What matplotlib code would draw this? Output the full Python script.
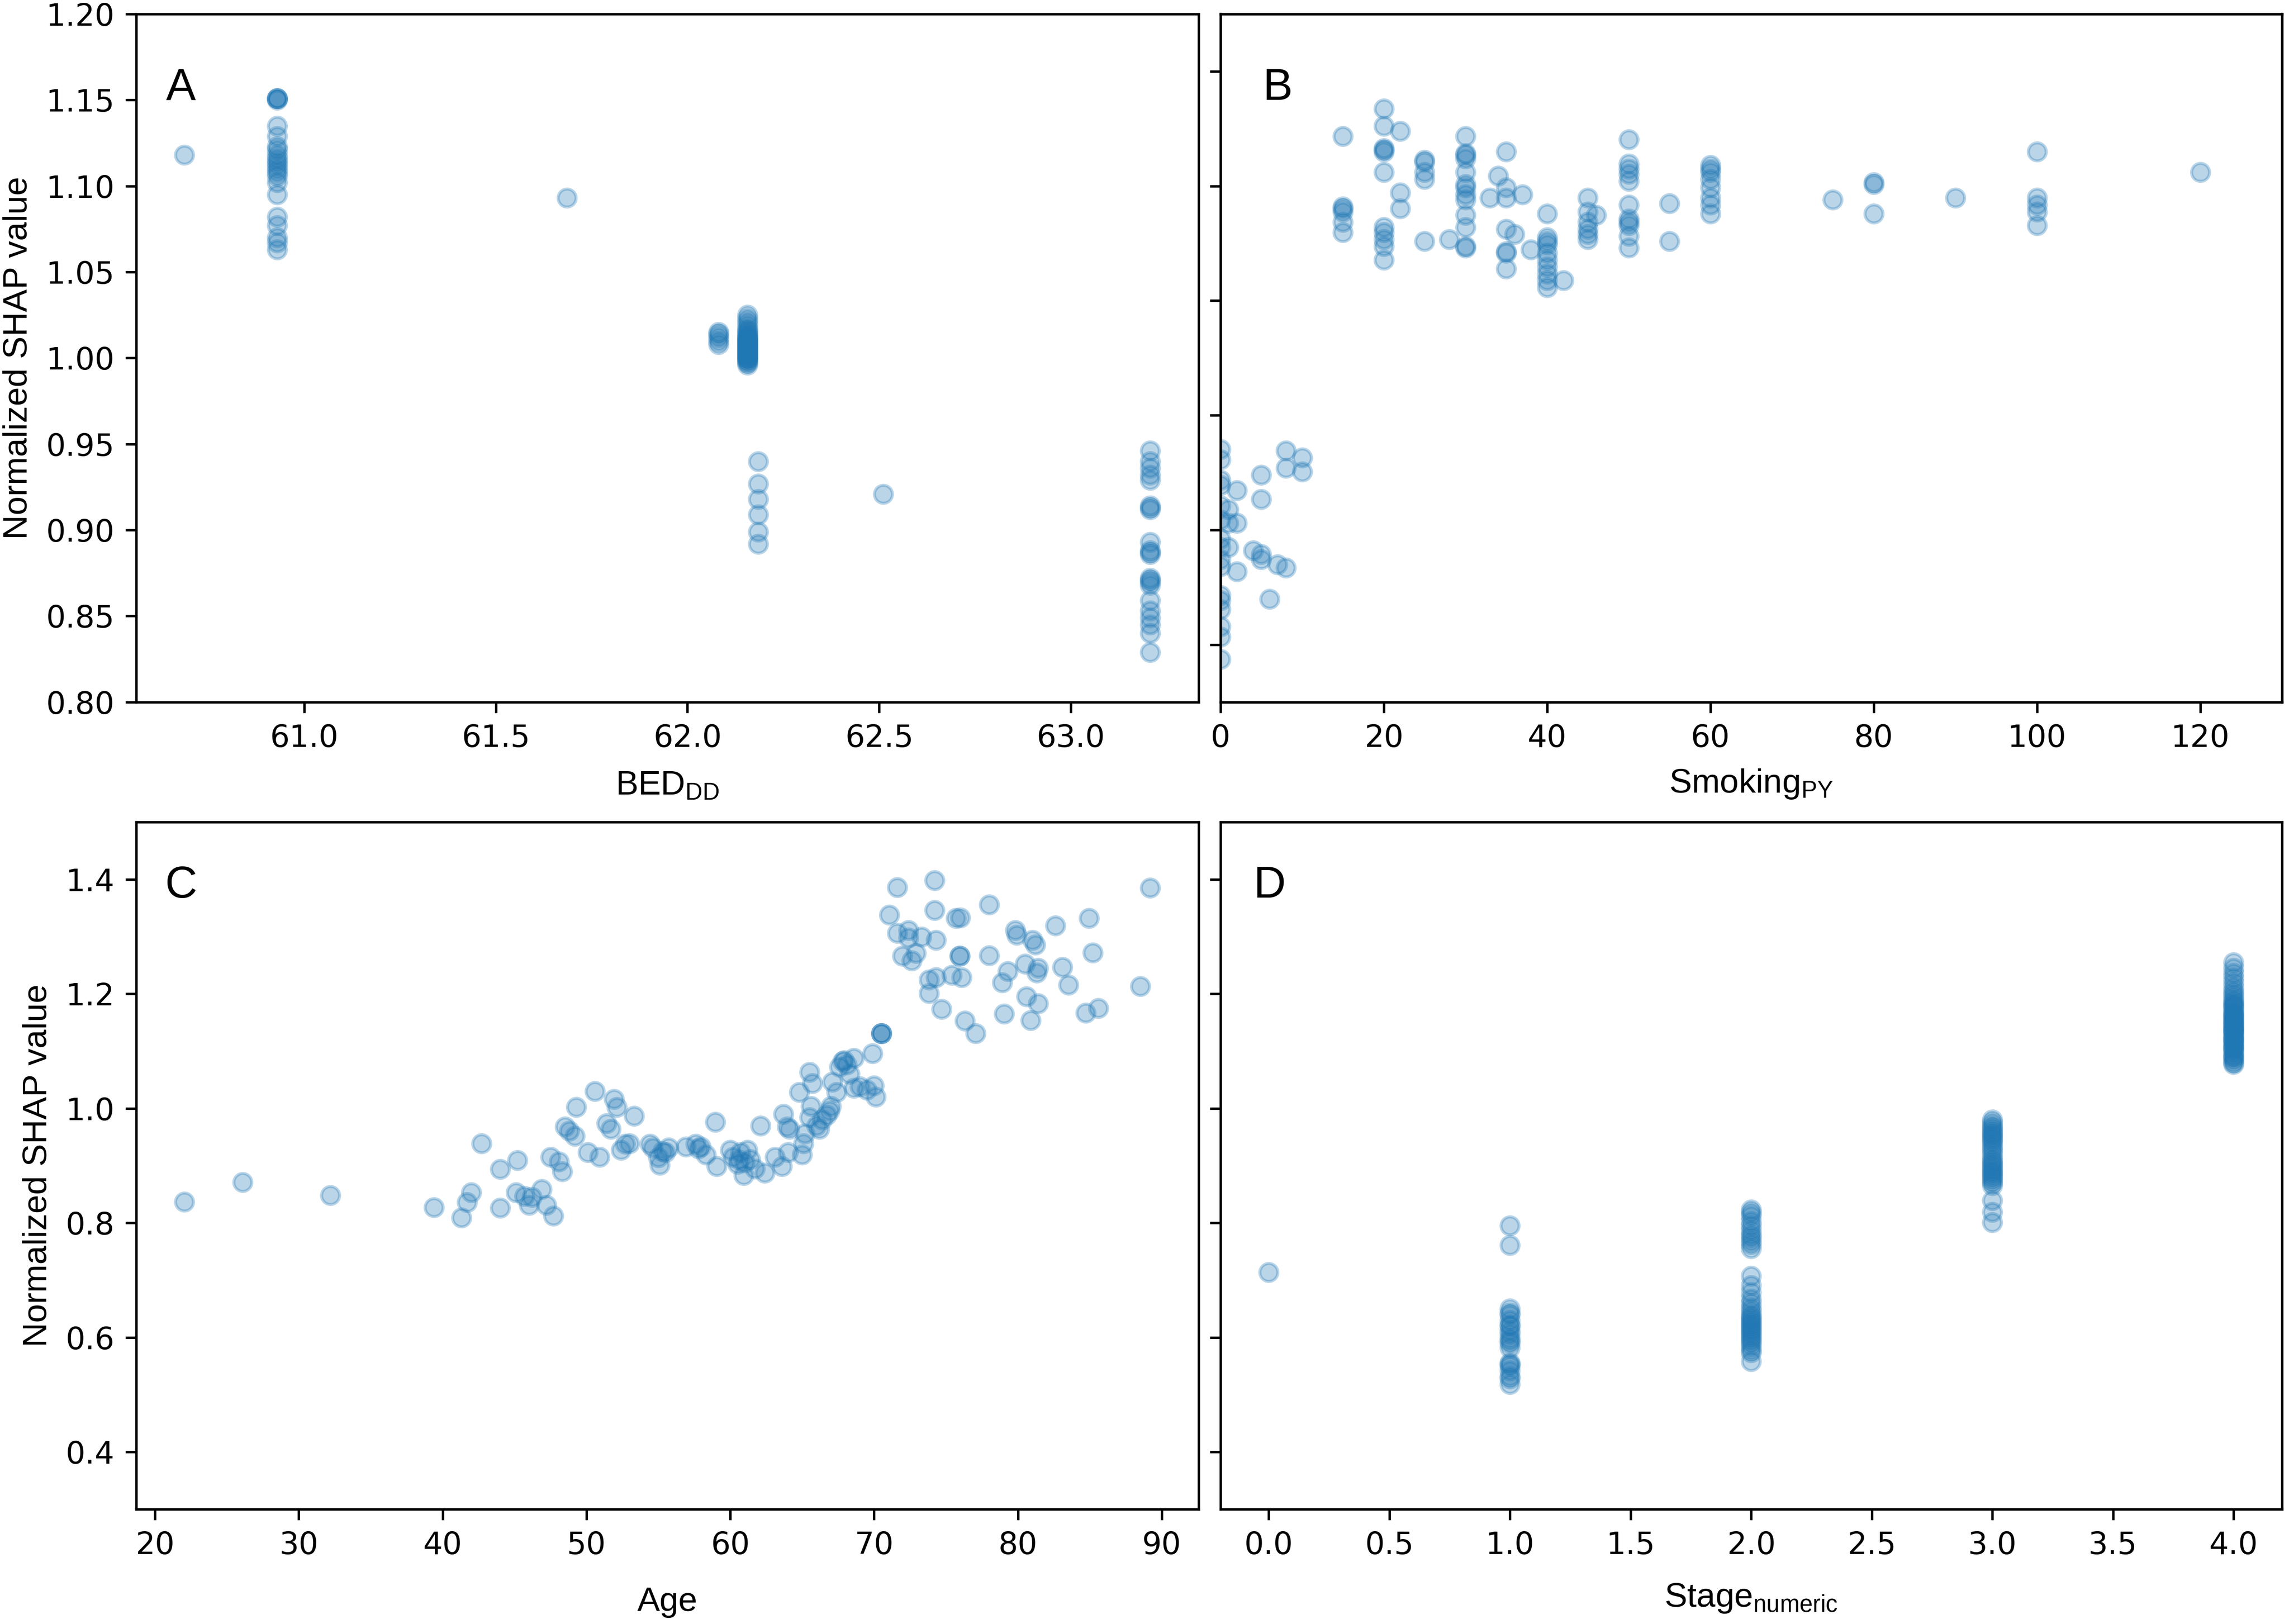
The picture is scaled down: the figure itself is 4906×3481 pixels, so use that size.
import matplotlib
matplotlib.use("Agg")
import matplotlib.pyplot as plt

plt.rcParams["mathtext.fontset"] = "custom"
plt.rcParams["mathtext.rm"] = "Liberation Sans"
plt.rcParams["mathtext.it"] = "Liberation Sans:italic"
plt.rcParams["mathtext.bf"] = "Liberation Sans:bold"

# ---------------- data ----------------
# Panel A: BED_DD
bed_x = ([60.688] + [60.93] * 22 + [61.685] + [62.081] * 5 + [62.157] * 40
         + [62.184] * 6 + [62.51] + [63.207] * 22)
bed_shap = ([1.118]
            + [1.151, 1.151, 1.150, 1.151, 1.135, 1.129, 1.123, 1.121, 1.118, 1.116, 1.114,
               1.112, 1.110, 1.108, 1.106, 1.102, 1.095, 1.082, 1.077, 1.070, 1.067, 1.063]
            + [1.093]
            + [1.015, 1.014, 1.012, 1.010, 1.008]
            + [1.025, 1.023, 1.021, 1.019, 1.017, 1.016, 1.015, 1.014, 1.013, 1.012,
               1.012, 1.011, 1.010, 1.010, 1.009, 1.008, 1.008, 1.007, 1.006, 1.006,
               1.005, 1.004, 1.004, 1.003, 1.002, 1.002, 1.001, 1.000, 1.000, 0.999,
               0.998, 0.997, 0.996, 1.003, 1.007, 1.011, 1.005, 1.001, 0.999, 1.009]
            + [0.940, 0.927, 0.918, 0.909, 0.899, 0.892]
            + [0.921]
            + [0.946, 0.940, 0.936, 0.932, 0.929, 0.914, 0.913, 0.912, 0.893, 0.888, 0.887,
               0.886, 0.872, 0.871, 0.870, 0.868, 0.859, 0.853, 0.849, 0.845, 0.840, 0.829])

# Panel B: Smoking pack-years
smoke_x = ([15] * 6 + [20] * 11 + [22] * 3 + [25] * 5 + [28] + [30] * 13 + [33] + [34]
           + [35] * 7 + [36] + [37] + [38] + [40] * 10 + [42] + [45] * 6 + [46]
           + [50] * 11 + [55] * 2 + [60] * 8 + [75] + [80] * 3 + [90] + [100] * 5 + [120]
           + [0] * 16 + [1] * 3 + [2] * 3 + [4] + [5] * 4 + [6] + [7] + [8] * 3 + [10] * 2)
smoke_shap = ([1.129, 1.088, 1.087, 1.085, 1.079, 1.073]
              + [1.145, 1.135, 1.122, 1.121, 1.120, 1.108, 1.076, 1.073, 1.069, 1.065, 1.057]
              + [1.132, 1.096, 1.087]
              + [1.115, 1.114, 1.108, 1.104, 1.068]
              + [1.069]
              + [1.129, 1.119, 1.118, 1.116, 1.108, 1.101, 1.099, 1.095, 1.092, 1.083,
                 1.076, 1.065, 1.064]
              + [1.093] + [1.106]
              + [1.120, 1.099, 1.093, 1.075, 1.062, 1.061, 1.052]
              + [1.072] + [1.095] + [1.063]
              + [1.084, 1.070, 1.068, 1.066, 1.061, 1.057, 1.053, 1.049, 1.045, 1.041]
              + [1.045]
              + [1.093, 1.085, 1.079, 1.075, 1.072, 1.069]
              + [1.083]
              + [1.127, 1.113, 1.110, 1.107, 1.103, 1.089, 1.081, 1.079, 1.077, 1.071, 1.064]
              + [1.090, 1.068]
              + [1.112, 1.110, 1.108, 1.104, 1.099, 1.093, 1.089, 1.084]
              + [1.092]
              + [1.102, 1.101, 1.084]
              + [1.093]
              + [1.120, 1.093, 1.089, 1.085, 1.077]
              + [1.108]
              + [0.947, 0.941, 0.929, 0.926, 0.914, 0.906, 0.895, 0.890, 0.883, 0.879,
                 0.862, 0.859, 0.854, 0.844, 0.838, 0.825]
              + [0.912, 0.904, 0.890]
              + [0.923, 0.904, 0.876]
              + [0.888]
              + [0.932, 0.918, 0.886, 0.883]
              + [0.860] + [0.880]
              + [0.946, 0.936, 0.878]
              + [0.942, 0.934])

# Panel C: Age
age_x = [22.05, 26.1, 32.2, 39.4, 41.3, 41.7, 42.0, 42.7, 44.0, 44.0, 45.2, 45.1, 45.7,
         46.0, 46.2, 46.9, 47.2, 47.7, 47.5, 48.1, 48.3, 48.5, 48.8, 49.2, 49.3, 50.1,
         50.9, 50.6, 51.4, 51.7, 51.9, 52.1, 52.4, 52.7, 53.3, 53.0, 54.4, 54.6, 55.0,
         55.1, 55.5, 55.7, 56.9, 57.6, 57.95, 58.3, 58.95, 59.05, 60.0, 60.2, 60.5, 60.7,
         60.95, 61.2, 61.4, 61.7, 62.1, 62.4, 63.1, 63.6, 63.7, 63.95, 64.1, 64.0, 64.8,
         65.0, 65.1, 65.2, 65.5, 65.6, 65.5, 65.7, 66.2, 66.4, 66.7, 66.9, 67.0, 67.1,
         67.4, 67.6, 67.9, 68.1, 68.3, 68.6, 68.6, 69.0, 69.5, 70.0, 70.1, 69.9, 70.5,
         70.5, 70.5, 71.05, 71.6, 71.6, 71.95, 72.4, 72.4, 72.6, 72.9, 73.3, 73.8, 73.8,
         74.2, 74.2, 74.3, 74.3, 74.7, 75.4, 75.7, 76.0, 75.95, 75.95, 76.1, 76.3, 77.05,
         78.0, 78.0, 78.9, 79.05, 79.3, 79.8, 79.9, 80.5, 80.6, 80.9, 81.0, 81.2, 81.3,
         81.4, 81.4, 82.6, 83.1, 83.5, 84.7, 84.95, 85.2, 85.6, 88.5, 89.2,
         60.6, 61.0, 55.3, 57.8, 67.8, 66.0]
age_shap = [0.837, 0.871, 0.848, 0.827, 0.809, 0.836, 0.853, 0.939, 0.826, 0.894, 0.909,
            0.853, 0.847, 0.831, 0.845, 0.859, 0.831, 0.812, 0.915, 0.907, 0.890, 0.968,
            0.961, 0.952, 1.002, 0.923, 0.915, 1.030, 0.974, 0.964, 1.016, 1.002, 0.927,
            0.938, 0.987, 0.939, 0.938, 0.931, 0.914, 0.901, 0.923, 0.931, 0.933, 0.938,
            0.933, 0.919, 0.976, 0.899, 0.927, 0.915, 0.903, 0.923, 0.883, 0.927, 0.911,
            0.895, 0.970, 0.887, 0.915, 0.899, 0.990, 0.968, 0.964, 0.923, 1.028, 0.919,
            0.939, 0.956, 0.984, 1.004, 1.063, 1.044, 0.964, 0.980, 0.988, 0.996, 1.004,
            1.046, 1.028, 1.072, 1.084, 1.076, 1.060, 1.088, 1.036, 1.038, 1.032, 1.040,
            1.020, 1.096, 1.131, 1.131, 1.131, 1.338, 1.386, 1.306, 1.266, 1.311, 1.298,
            1.258, 1.271, 1.300, 1.225, 1.201, 1.398, 1.346, 1.294, 1.229, 1.173, 1.233,
            1.332, 1.333, 1.266, 1.266, 1.229, 1.153, 1.131, 1.356, 1.267, 1.220, 1.165,
            1.239, 1.311, 1.303, 1.252, 1.195, 1.154, 1.294, 1.286, 1.237, 1.183, 1.245,
            1.319, 1.247, 1.216, 1.167, 1.332, 1.272, 1.175, 1.213, 1.385,
            0.910, 0.905, 0.925, 0.930, 1.082, 0.970]

# Panel D: Stage (numeric)
stage_x = [0] + [1] * 21 + [2] * 36 + [3] * 31 + [4] * 52
stage_shap = ([0.714]
              + [0.795, 0.761, 0.650, 0.643, 0.640, 0.630, 0.622, 0.620, 0.612, 0.606,
                 0.598, 0.594, 0.590, 0.582, 0.556, 0.553, 0.550, 0.542, 0.532, 0.528, 0.518]
              + [0.823, 0.818, 0.812, 0.803, 0.795, 0.787, 0.780, 0.775, 0.768, 0.763,
                 0.755, 0.707, 0.691, 0.679, 0.667, 0.660, 0.652, 0.646, 0.640, 0.636,
                 0.632, 0.628, 0.625, 0.621, 0.618, 0.614, 0.610, 0.606, 0.602, 0.598,
                 0.594, 0.590, 0.584, 0.578, 0.574, 0.558]
              + [0.980, 0.975, 0.970, 0.966, 0.962, 0.958, 0.955, 0.952, 0.948, 0.944,
                 0.940, 0.935, 0.930, 0.925, 0.918, 0.912, 0.908, 0.904, 0.900, 0.896,
                 0.892, 0.889, 0.886, 0.882, 0.878, 0.874, 0.870, 0.865, 0.839, 0.819, 0.801]
              + [1.255, 1.245, 1.236, 1.228, 1.220, 1.212, 1.205, 1.200, 1.195, 1.190,
                 1.186, 1.182, 1.178, 1.174, 1.170, 1.166, 1.162, 1.158, 1.155, 1.152,
                 1.149, 1.146, 1.143, 1.140, 1.137, 1.134, 1.131, 1.128, 1.125, 1.122,
                 1.119, 1.116, 1.113, 1.110, 1.107, 1.104, 1.100, 1.096, 1.092, 1.088,
                 1.084, 1.080, 1.077, 1.165, 1.150, 1.135, 1.120, 1.105, 1.090, 1.180,
                 1.160, 1.140])

# ---------------- figure ----------------
DPI = 475
LABEL_FONT = dict(family="Liberation Sans", size=11)
fig = plt.figure(figsize=(4906 / DPI, 3481 / DPI), dpi=DPI)
axA = fig.add_axes([0.0595, 0.5677, 0.4641, 0.4237])
axC = fig.add_axes([0.0595, 0.0707, 0.4641, 0.4231])
axD = fig.add_axes([0.5332, 0.0707, 0.4637, 0.4231], sharey=axC)
axB = fig.add_axes([0.5332, 0.5677, 0.4637, 0.4237], sharey=axC)
axB2 = axB.twinx()

kw = dict(s=34, color="#1f77b4", alpha=0.3, linewidths=1.0)

axA.scatter(bed_x, bed_shap, **kw)
axA.set_ylim(0.80, 1.20)
axA.set_yticks([0.80, 0.85, 0.90, 0.95, 1.00, 1.05, 1.10, 1.15, 1.20])
axA.set_xticks([61.0, 61.5, 62.0, 62.5, 63.0])
axA.set_xlabel(r"BED$_{\mathrm{DD}}$", labelpad=5.5, **LABEL_FONT)
axA.set_ylabel("Normalized SHAP value", **LABEL_FONT)

axB2.scatter(smoke_x, smoke_shap, **kw)
axB2.set_ylim(0.80, 1.20)
axB2.set_yticks([])
axB.set_xlim(0, 130)
axB.set_xticks([0, 20, 40, 60, 80, 100, 120])
axB.tick_params(labelleft=False)
axB.set_xlabel(r"Smoking$_{\mathrm{PY}}$", labelpad=4.5, **LABEL_FONT)

axC.scatter(age_x, age_shap, **kw)
axC.set_ylim(0.30, 1.50)
axC.set_yticks([0.4, 0.6, 0.8, 1.0, 1.2, 1.4])
axC.set_xticks([20, 30, 40, 50, 60, 70, 80, 90])
axC.set_xlabel("Age", labelpad=8.5, **LABEL_FONT)
axC.set_ylabel("Normalized SHAP value", **LABEL_FONT)

axD.scatter(stage_x, stage_shap, **kw)
axD.set_xticks([0.0, 0.5, 1.0, 1.5, 2.0, 2.5, 3.0, 3.5, 4.0])
axD.tick_params(labelleft=False)
axD.set_xlabel(r"Stage$_{\mathrm{numeric}}$", labelpad=7.0, **LABEL_FONT)

for ax, letter, x, y in [(axA, "A", 0.028, 0.923), (axB2, "B", 0.0395, 0.923),
                         (axC, "C", 0.027, 0.9375), (axD, "D", 0.031, 0.9375)]:
    ax.text(x, y, letter, transform=ax.transAxes, fontsize=14.5,
            family="Liberation Sans", ha="left", va="top")

fig.savefig("out.png", dpi=DPI)
